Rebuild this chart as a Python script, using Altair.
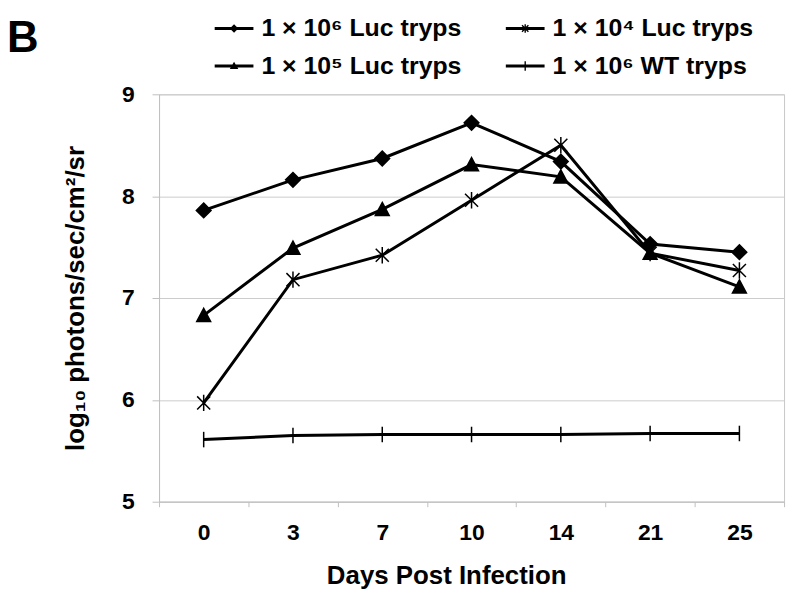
import altair as alt
import pandas as pd

# ---- data ----
days = ["0", "3", "7", "10", "14", "21", "25"]
series_names = ["1 × 10⁶ Luc tryps", "1 × 10⁴ Luc tryps", "1 × 10⁵ Luc tryps", "1 × 10⁶ WT tryps"]
luc_1e6 = [7.86, 8.16, 8.37, 8.72, 8.34, 7.53, 7.45]
luc_1e4 = [5.97, 7.18, 7.42, 7.96, 8.50, 7.44, 7.27]
luc_1e5 = [6.83, 7.49, 7.87, 8.31, 8.19, 7.44, 7.11]
wt_1e6 = [5.61, 5.65, 5.66, 5.66, 5.66, 5.67, 5.67]
y_ticks = [5, 6, 7, 8, 9]

values_by_series = [luc_1e6, luc_1e4, luc_1e5, wt_1e6]
rows = []
for name, vals in zip(series_names, values_by_series):
    for d, v in zip(days, vals):
        rows.append({"day": d, "value": v, "series": name})
df = pd.DataFrame(rows)

FONT = "Liberation Sans"

# marker shapes (plot)
marker_paths = [
    "M0,-0.9L0.9,0L0,0.9L-0.9,0Z",
    "M-0.8,-0.8L0.8,0.8M-0.8,0.8L0.8,-0.8M0,-1V1",
    "M0,-0.85L0.85,0.75L-0.85,0.75Z",
    "M0,-0.95V0.95",
]
# legend symbols: line segment + small marker, built from filled outlines
LINE = "M-1,-0.075L1,-0.075L1,0.075L-1,0.075Z"
legend_paths = [
    LINE + "M0,-0.22L0.22,0L0,0.22L-0.22,0Z",
    LINE
    + "M-0.14,-0.19L0.19,0.14L0.14,0.19L-0.19,-0.14Z"
    + "M-0.19,0.14L0.14,-0.19L0.19,-0.14L-0.14,0.19Z"
    + "M-0.035,-0.22L0.035,-0.22L0.035,0.22L-0.035,0.22Z",
    LINE + "M0,-0.22L0.22,0.15L-0.22,0.15Z",
    LINE + "M-0.035,-0.25L0.035,-0.25L0.035,0.25L-0.035,0.25Z",
]

x_enc = alt.X(
    "day:O",
    sort=days,
    scale=alt.Scale(type="band", domain=days, paddingInner=0, paddingOuter=0),
    axis=alt.Axis(
        title="Days Post Infection",
        labelAngle=0,
        tickBand="extent",
        tickSize=5,
        labelPadding=15,
        grid=False,
        titleX=289,
        titleY=82,
        titleBaseline="alphabetic",
    ),
)
y_enc = alt.Y(
    "value:Q",
    scale=alt.Scale(domain=[5, 9], nice=False, zero=False),
    axis=alt.Axis(
        title="log₁₀ photons/sec/cm²/sr",
        values=y_ticks,
        tickSize=7,
        labelPadding=18,
        grid=True,
        titleAngle=270,
        titleX=-84,
        titleY=205,
        titleAlign="center",
        titleBaseline="middle",
    ),
)

lines = alt.Chart(df).mark_line(color="black", strokeWidth=3).encode(
    x=x_enc, y=y_enc, detail="series:N"
)

points = alt.Chart(df).mark_point(
    filled=False, fill="black", stroke="black", strokeWidth=1.5, size=270, opacity=1
).encode(
    x=x_enc,
    y=y_enc,
    shape=alt.Shape(
        "series:N",
        scale=alt.Scale(domain=series_names, range=marker_paths),
        legend=None,
    ),
)

# legend-only layer: no rows survive the filter, the explicit domain keeps the legend
legend_layer = alt.Chart(df).transform_filter("datum.value < 0").mark_point(
    filled=True, color="black", size=1521, opacity=1
).encode(
    x=x_enc,
    y=y_enc,
    shape=alt.Shape(
        "series:N",
        scale=alt.Scale(domain=series_names, range=legend_paths),
        legend=alt.Legend(
            title=None,
            orient="none",
            direction="horizontal",
            legendX=56,
            legendY=-86,
            columns=2,
            columnPadding=44,
            rowPadding=5,
            padding=0,
            symbolSize=1521,
            symbolFillColor="black",
            symbolOpacity=1,
            symbolStrokeWidth=0,
            labelOffset=8,
            labelFont=FONT,
            labelFontSize=25,
            labelFontWeight="bold",
            labelColor="black",
            labelLimit=400,
        ),
    ),
)

label_df = pd.DataFrame({"t": ["B"]})
panel_label = alt.Chart(label_df).mark_text(
    font=FONT, fontSize=44, fontWeight="bold", color="black", align="center", baseline="alphabetic"
).encode(text="t:N", x=alt.value(-137), y=alt.value(-43))

chart = (
    alt.layer(lines, points, legend_layer, panel_label)
    .resolve_scale(shape="independent")
    .properties(
        width=629,
        height=410,
        autosize=alt.AutoSizeParams(type="none"),
        padding={"left": 152, "top": 85, "right": 8, "bottom": 89},
        background="white",
    )
    .configure_view(stroke="#c8c8c8", strokeWidth=1)
    .configure_axis(
        labelFont=FONT,
        labelFontSize=23,
        labelFontWeight="bold",
        labelColor="black",
        titleFont=FONT,
        titleFontSize=26,
        titleFontWeight="bold",
        titleColor="black",
        domainColor="#c0c0c0",
        tickColor="#c0c0c0",
        gridColor="#cccccc",
    )
)

chart.save("out.html", embed_options={"renderer": "svg", "actions": False})
